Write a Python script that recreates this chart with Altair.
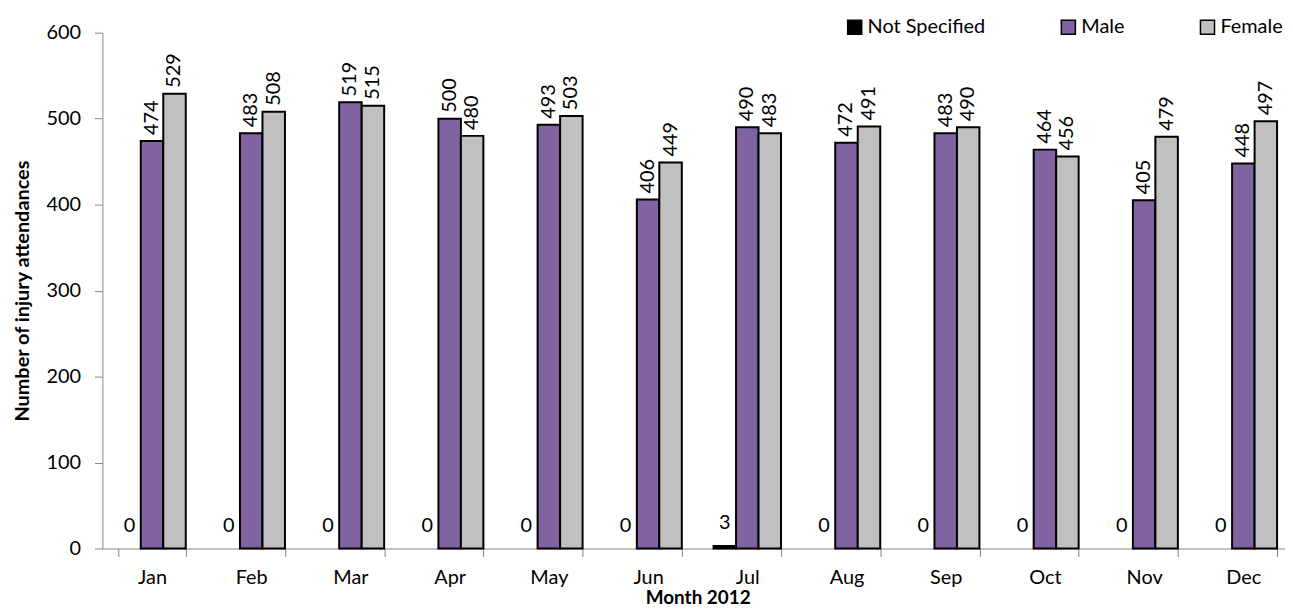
import altair as alt
import pandas as pd

months = ["Jan", "Feb", "Mar", "Apr", "May", "Jun", "Jul", "Aug", "Sep", "Oct", "Nov", "Dec"]
series = ["Not Specified", "Male", "Female"]
not_specified = [0, 0, 0, 0, 0, 0, 3, 0, 0, 0, 0, 0]
male = [474, 483, 519, 500, 493, 406, 490, 472, 483, 464, 405, 448]
female = [529, 508, 515, 480, 503, 449, 483, 491, 490, 456, 479, 497]
colors = ["#000000", "#8064A2", "#C0C0C0"]
y_ticks = [0, 100, 200, 300, 400, 500, 600]

rows = []
for i, m in enumerate(months):
    for s, vals in zip(series, [not_specified, male, female]):
        rows.append({"Month": m, "Series": s, "Value": vals[i]})
df = pd.DataFrame(rows)

FONT = "Lato"
AXIS_GREY = "#868686"

base = alt.Chart(df).encode(
    x=alt.X(
        "Month:N",
        sort=months,
        scale=alt.Scale(paddingInner=0.32, paddingOuter=0.16, range=[0, 1198]),
        axis=alt.Axis(
            title="Month 2012",
            labelAngle=0,
            tickBand="extent",
            tickSize=8,
            tickColor=AXIS_GREY,
            domainColor=AXIS_GREY,
            labelFont=FONT,
            labelFontSize=20,
            labelColor="black",
            labelPadding=11,
            titleFont=FONT,
            titleFontSize=19,
            titleFontWeight="bold",
            titleColor="black",
            titlePadding=1,
        ),
    ),
    xOffset=alt.XOffset("Series:N", sort=series, scale=alt.Scale(domain=series)),
    y=alt.Y(
        "Value:Q",
        scale=alt.Scale(domain=[0, 600]),
        axis=alt.Axis(
            title="Number of injury attendances",
            values=y_ticks,
            grid=False,
            tickSize=8,
            tickColor=AXIS_GREY,
            domainColor=AXIS_GREY,
            labelFont=FONT,
            labelFontSize=20,
            labelColor="black",
            labelPadding=14,
            titleFont=FONT,
            titleFontSize=20,
            titleFontWeight="bold",
            titleColor="black",
            titlePadding=14,
        ),
    ),
)

bars = base.mark_bar(stroke="black", strokeWidth=2).encode(
    color=alt.Color(
        "Series:N",
        sort=series,
        scale=alt.Scale(domain=series, range=colors),
        legend=alt.Legend(
            title=None,
            orient="none",
            legendX=747,
            legendY=-16,
            direction="horizontal",
            columnPadding=72,
            symbolType="square",
            symbolSize=200,
            symbolStrokeColor="black",
            symbolStrokeWidth=1.5,
            labelFont=FONT,
            labelFontSize=20,
            labelColor="black",
            labelOffset=3,
        ),
    ),
    strokeOpacity=alt.condition("datum.Value == 0", alt.value(0), alt.value(1)),
)

labels_mf = base.transform_filter("datum.Series != 'Not Specified'").mark_text(
    angle=270, align="left", baseline="middle", dx=6, font=FONT, fontSize=20, color="black"
).encode(text="Value:Q")

labels_ns = base.transform_filter("datum.Series == 'Not Specified'").mark_text(
    align="center", baseline="bottom", dy=-13, font=FONT, fontSize=20, color="black"
).encode(text="Value:Q")

chart = (
    alt.layer(bars, labels_mf, labels_ns)
    .properties(
        width=1190,
        height=519,
        autosize=alt.AutoSizeParams(type="none"),
        padding={"left": 95, "top": 23, "right": 0, "bottom": 57},
    )
    .configure_view(stroke=None)
)

chart.save("out.html", embed_options={"renderer": "svg", "actions": False})
